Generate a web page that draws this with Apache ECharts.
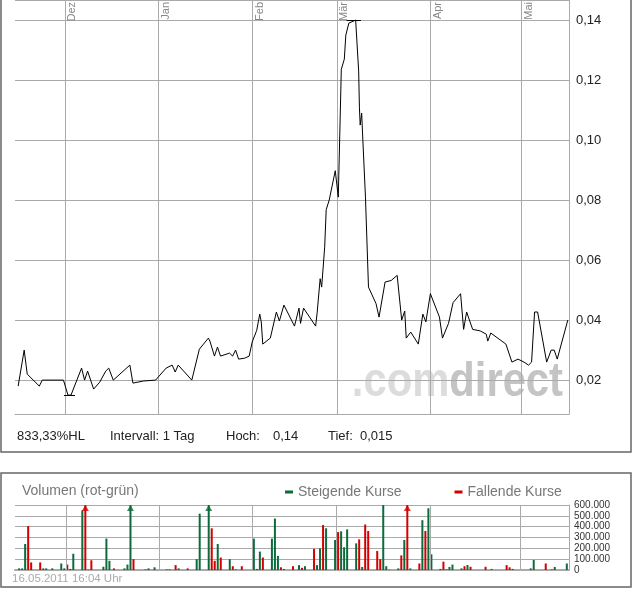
<!DOCTYPE html>
<html><head><meta charset="utf-8">
<script src="https://cdn.jsdelivr.net/npm/echarts@6/dist/echarts.min.js"></script>
<style>html,body{margin:0;padding:0;background:#fff}#c{width:632px;height:590px}</style>
</head><body><div id="c"></div>
<script>
// ---------- data ----------
const priceDates = ['2010-11-15 12:00','2010-11-17 12:00','2010-11-18 12:00','2010-11-22 12:00','2010-11-23 12:00','2010-11-30 12:00','2010-12-02','2010-12-03','2010-12-06 12:00','2010-12-07 12:00','2010-12-08 12:00','2010-12-10 12:00','2010-12-12 12:00','2010-12-14 12:00','2010-12-15 12:00','2010-12-17','2010-12-22 12:00','2010-12-23 12:00','2010-12-27','2010-12-31','2011-01-03 12:00','2011-01-05 12:00','2011-01-06 12:00','2011-01-07 12:00','2011-01-12','2011-01-12 12:00','2011-01-14 12:00','2011-01-17 12:00','2011-01-18','2011-01-19 12:00','2011-01-20 12:00','2011-01-21 12:00','2011-01-24 12:00','2011-01-25 12:00','2011-01-26 12:00','2011-01-27 12:00','2011-01-29 12:00','2011-01-31','2011-02-01','2011-02-02 12:00','2011-02-03 12:00','2011-02-04','2011-02-04 12:00','2011-02-07','2011-02-09','2011-02-10','2011-02-11 12:00','2011-02-15','2011-02-16 12:00','2011-02-17','2011-02-18','2011-02-22','2011-02-22 12:00','2011-02-23 12:00','2011-02-24','2011-02-25','2011-02-25 12:00','2011-02-26 12:00','2011-02-28 12:00','2011-03-01 12:00','2011-03-02','2011-03-02 12:00','2011-03-03 12:00','2011-03-04','2011-03-05','2011-03-07 06:00','2011-03-08 06:00','2011-03-08 12:00','2011-03-08 18:00','2011-03-09 06:00','2011-03-09 12:00','2011-03-10 12:00','2011-03-11 12:00','2011-03-14','2011-03-15','2011-03-17','2011-03-19','2011-03-21','2011-03-22 12:00','2011-03-23 12:00','2011-03-24','2011-03-25 12:00','2011-03-28','2011-03-29 12:00','2011-03-30 12:00','2011-04-01','2011-04-04','2011-04-05','2011-04-07','2011-04-08 12:00','2011-04-11','2011-04-12','2011-04-13','2011-04-15','2011-04-17 12:00','2011-04-19 12:00','2011-04-20','2011-04-21','2011-04-26','2011-04-28','2011-04-30','2011-05-02','2011-05-03 12:00','2011-05-04 12:00','2011-05-05 12:00','2011-05-06 12:00','2011-05-09 12:00','2011-05-11','2011-05-12','2011-05-13','2011-05-16 12:00'];
const priceValues = [0.018,0.030,0.022,0.018,0.020,0.020,0.015,0.015,0.024,0.020,0.023,0.017,0.0193,0.023,0.024,0.020,0.025,0.019,0.0197,0.020,0.024,0.025,0.0227,0.025,0.020,0.020,0.0303,0.034,0.033,0.028,0.031,0.028,0.029,0.028,0.030,0.027,0.0273,0.028,0.0327,0.0366,0.042,0.0394,0.032,0.034,0.0427,0.0397,0.045,0.038,0.044,0.0389,0.044,0.038,0.0424,0.0538,0.051,0.0643,0.0768,0.080,0.0898,0.081,0.102,0.1236,0.127,0.135,0.139,0.140,0.123,0.111,0.105,0.109,0.103,0.081,0.051,0.0455,0.041,0.0527,0.0532,0.0549,0.040,0.043,0.034,0.036,0.032,0.042,0.0394,0.0488,0.041,0.034,0.0389,0.0458,0.0488,0.0369,0.0427,0.0369,0.0364,0.0353,0.033,0.0357,0.032,0.026,0.027,0.026,0.025,0.026,0.0427,0.0427,0.026,0.030,0.030,0.027,0.040];

const volDates = ['2010-11-15 12:00','2010-11-16 12:00','2010-11-17 12:00','2010-11-18 12:00','2010-11-19 12:00','2010-11-22 12:00','2010-11-23 12:00','2010-11-24 12:00','2010-11-26 12:00','2010-11-29 12:00','2010-11-30 12:00','2010-12-01 12:00','2010-12-02 12:00','2010-12-03 12:00','2010-12-06 12:00','2010-12-07 12:00','2010-12-08 12:00','2010-12-09 12:00','2010-12-13 12:00','2010-12-14 12:00','2010-12-15 12:00','2010-12-17','2010-12-20 12:00','2010-12-21 12:00','2010-12-22 12:00','2010-12-23 12:00','2010-12-27 12:00','2010-12-28 12:00','2010-12-30 12:00','2011-01-03 12:00','2011-01-04 12:00','2011-01-06 12:00','2011-01-07 12:00','2011-01-10 12:00','2011-01-13 12:00','2011-01-14 12:00','2011-01-17 12:00','2011-01-18 12:00','2011-01-19 12:00','2011-01-20 12:00','2011-01-21 12:00','2011-01-24 12:00','2011-01-25 12:00','2011-01-26 12:00','2011-01-28 12:00','2011-02-01 12:00','2011-02-02 12:00','2011-02-03 12:00','2011-02-04 12:00','2011-02-07 12:00','2011-02-08 12:00','2011-02-09 12:00','2011-02-10 12:00','2011-02-11 12:00','2011-02-14 12:00','2011-02-16 12:00','2011-02-17 12:00','2011-02-18 12:00','2011-02-21 12:00','2011-02-22 12:00','2011-02-23 12:00','2011-02-24 12:00','2011-02-25 12:00','2011-02-28 12:00','2011-03-01 12:00','2011-03-02 12:00','2011-03-03 12:00','2011-03-04 12:00','2011-03-07 12:00','2011-03-08 12:00','2011-03-09 12:00','2011-03-10 12:00','2011-03-11 12:00','2011-03-14 12:00','2011-03-15 12:00','2011-03-16 12:00','2011-03-17 12:00','2011-03-18 12:00','2011-03-21 12:00','2011-03-22 12:00','2011-03-23 12:00','2011-03-24 12:00','2011-03-25 12:00','2011-03-28 12:00','2011-03-29 12:00','2011-03-30 12:00','2011-03-31 12:00','2011-04-01 12:00','2011-04-04 12:00','2011-04-05 12:00','2011-04-06 12:00','2011-04-07 12:00','2011-04-08 12:00','2011-04-11 12:00','2011-04-12 12:00','2011-04-13 12:00','2011-04-14 12:00','2011-04-19 12:00','2011-04-21 12:00','2011-04-26 12:00','2011-04-27 12:00','2011-04-28 12:00','2011-05-04 12:00','2011-05-05 12:00','2011-05-09 12:00','2011-05-11 12:00','2011-05-12 12:00','2011-05-16 12:00'];
const volValues = [15000,15000,240000,406000,70000,70000,15000,15000,15000,60000,15000,50000,10000,150000,550000,800000,5000,90000,30000,290000,85000,15000,15000,50000,900000,100000,6000,15000,25000,6000,6000,45000,15000,15000,100000,520000,850000,385000,85000,240000,115000,100000,35000,6000,35000,290000,10000,170000,115000,290000,475000,130000,25000,10000,35000,45000,20000,35000,195000,45000,200000,415000,385000,277000,350000,357000,210000,375000,246000,283000,28000,420000,360000,175000,100000,600000,35000,3000,15000,135000,277000,800000,15000,60000,460000,360000,570000,145000,10000,77000,6000,28000,50000,15000,35000,46000,30000,30000,10000,45000,25000,10000,15000,92000,60000,6000,28000,60000];
const volDir = ['u','u','u','d','d','d','u','u','u','u','u','d','d','u','u','d','u','d','u','u','u','d','u','u','u','d','u','u','u','u','u','d','u','d','u','u','u','d','d','u','d','u','d','u','d','u','u','u','d','u','u','u','d','u','d','u','d','u','d','u','u','d','u','u','d','u','u','u','u','d','u','d','d','d','d','u','u','u','u','d','u','d','u','d','u','d','u','u','d','d','u','u','u','u','d','u','d','d','u','d','d','d','u','u','d','u','u','u'];

const monthDates = ['2010-12-01','2011-01-01','2011-02-01','2011-03-01','2011-04-01','2011-05-01'];
const monthLabels = ['Dez','Jan','Feb','Mär','Apr','Mai'];
const xRange = ['2010-11-14 11:00','2011-05-16 21:30'];
const priceRange = [0.0087, 0.1467];
const volMax = 600000;
const highValue = 0.14, highSpan = ['2011-03-04 06:00','2011-03-09'];
const lowValue = 0.015, lowSpan = ['2010-11-30 16:00','2010-12-04 08:00'];
const infoItems = ['833,33%HL','Intervall: 1 Tag','Hoch:','0,14','Tief:','0,015'];
const stamp = '16.05.2011 16:04 Uhr';

// ---------- helpers ----------
function t(s){
  const m = s.match(/(\d+)-(\d+)-(\d+)(?: (\d+):(\d+))?/);
  return new Date(+m[1], +m[2]-1, +m[3], m[4]?+m[4]:0, m[5]?+m[5]:0).getTime();
}
function deNum(v){ return String(Math.round(v)).replace(/\B(?=(\d{3})+(?!\d))/g, '.'); }
const FONT = '"Liberation Sans", Arial, sans-serif';
const GRID = '#aaaaaa';
const GREEN = '#0b6b3a', RED = '#d40000';

const priceData = priceDates.map((d,i)=>[t(d), priceValues[i]]);
const upData = [], downData = [], overUp = [], overDown = [];
volDates.forEach((d,i)=>{
  const p = [t(d), volValues[i]];
  (volDir[i]==='u' ? upData : downData).push(p);
  if (volValues[i] > volMax) (volDir[i]==='u' ? overUp : overDown).push([t(d), volMax]);
});

const monthLines = monthDates.map((d,i)=>({xAxis: t(d), name: monthLabels[i]}));

const chart = echarts.init(document.getElementById('c'), null, {renderer:'canvas'});
chart.setOption({
  animation: false,
  textStyle: {fontFamily: FONT},
  grid: [
    {left: 15, right: 63, top: -1, height: 415, containLabel: false},
    {left: 15, right: 63, top: 505, height: 65, containLabel: false}
  ],
  xAxis: [
    {type:'time', gridIndex:0, min:t(xRange[0]), max:t(xRange[1]),
     axisLine:{show:true, lineStyle:{color:GRID}}, axisTick:{show:false}, axisLabel:{show:false}, splitLine:{show:false}},
    {type:'time', gridIndex:1, min:t(xRange[0]), max:t(xRange[1]),
     axisLine:{show:true, lineStyle:{color:GRID, width:2}}, axisTick:{show:false}, axisLabel:{show:false}, splitLine:{show:false}}
  ],
  yAxis: [
    {type:'value', gridIndex:0, position:'right', min:priceRange[0], max:priceRange[1], splitNumber:7,
     axisLine:{show:true, lineStyle:{color:GRID}}, axisTick:{show:false},
     axisLabel:{showMinLabel:false, showMaxLabel:false, color:'#222', fontSize:13, margin:7, fontFamily:FONT,
       formatter: v => v.toFixed(2).replace('.', ',')},
     splitLine:{show:true, lineStyle:{color:GRID}}},
    {type:'value', gridIndex:1, position:'right', min:0, max:volMax, interval:100000,
     axisLine:{show:true, lineStyle:{color:GRID}}, axisTick:{show:false},
     axisLabel:{color:'#333', fontSize:10, margin:5, fontFamily:FONT, formatter: v => deNum(v)},
     splitLine:{show:true, lineStyle:{color:GRID}}}
  ],
  legend: {
    data: ['Steigende Kurse','Fallende Kurse'], left: 280, top: 480, icon: 'rect',
    itemWidth: 8, itemHeight: 3, itemGap: 53, selectedMode: false,
    textStyle: {color:'#777', fontSize:14, fontFamily:FONT}
  },
  series: [
    {type:'line', name:'Kurs', xAxisIndex:0, yAxisIndex:0, data: priceData, showSymbol:false, symbol:'none',
     lineStyle:{color:'#000', width:1}, z: 5,
     markLine: {silent:true, symbol:'none', animation:false,
       lineStyle:{color:GRID, width:1, type:'solid'},
       label:{show:true, position:'insideEndBottom', formatter: p => p.name, color:'#888', fontSize:11, fontFamily:FONT, distance:2},
       data: monthLines.concat([
         [{coord:[t(highSpan[0]), highValue], lineStyle:{color:'#000', width:1, type:'solid'}, label:{show:false}}, {coord:[t(highSpan[1]), highValue]}],
         [{coord:[t(lowSpan[0]), lowValue], lineStyle:{color:'#000', width:1, type:'solid'}, label:{show:false}}, {coord:[t(lowSpan[1]), lowValue]}]
       ])}
    },
    {type:'bar', name:'Steigende Kurse', xAxisIndex:1, yAxisIndex:1, data: upData, barWidth:2, barGap:'-100%',
     itemStyle:{color:GREEN}, clip:true,
     markLine:{silent:true, symbol:'none', animation:false, label:{show:false},
       lineStyle:{color:GRID, width:1, type:'solid'}, data: monthDates.map(d=>({xAxis:t(d)}))}},
    {type:'bar', name:'Fallende Kurse', xAxisIndex:1, yAxisIndex:1, data: downData, barWidth:2, barGap:'-100%',
     itemStyle:{color:RED}, clip:true},
    {type:'scatter', name:'upOver', xAxisIndex:1, yAxisIndex:1, data: overUp, symbol:'triangle', symbolSize:[7,6], symbolOffset:[0,3],
     itemStyle:{color:GREEN}, clip:false, silent:true},
    {type:'scatter', name:'downOver', xAxisIndex:1, yAxisIndex:1, data: overDown, symbol:'triangle', symbolSize:[7,6], symbolOffset:[0,3],
     itemStyle:{color:RED}, clip:false, silent:true}
  ],
  graphic: [
    {type:'text', z:-1, x:563, y:407, scaleX:0.87, scaleY:1, silent:true,
     style:{text:'{a|.com}{b|direct}', align:'right', verticalAlign:'bottom',
       rich:{a:{fill:'#dcdcdc', font:'bold 48px '+FONT}, b:{fill:'#c4c4c4', font:'bold 48px '+FONT}}}},
    {type:'rect', x:1, y:-5, shape:{width:630, height:457}, style:{fill:'none', stroke:'#666', lineWidth:1.5}, silent:true},
    {type:'rect', x:1, y:473, shape:{width:630, height:114}, style:{fill:'none', stroke:'#666', lineWidth:1.5}, silent:true},
    {type:'text', x:17, y:436, style:{text:infoItems[0], fill:'#222', font:'13px '+FONT, verticalAlign:'middle'}},
    {type:'text', x:110, y:436, style:{text:infoItems[1], fill:'#222', font:'13px '+FONT, verticalAlign:'middle'}},
    {type:'text', x:226, y:436, style:{text:infoItems[2], fill:'#222', font:'13px '+FONT, verticalAlign:'middle'}},
    {type:'text', x:273, y:436, style:{text:infoItems[3], fill:'#222', font:'13px '+FONT, verticalAlign:'middle'}},
    {type:'text', x:328, y:436, style:{text:infoItems[4], fill:'#222', font:'13px '+FONT, verticalAlign:'middle'}},
    {type:'text', x:360, y:436, style:{text:infoItems[5], fill:'#222', font:'13px '+FONT, verticalAlign:'middle'}},
    {type:'text', x:22, y:491, style:{text:'Volumen (rot-grün)', fill:'#777', font:'14px '+FONT, verticalAlign:'middle'}},
    {type:'text', x:12, y:579, style:{text:stamp, fill:'#aaa', font:'11.5px '+FONT, verticalAlign:'middle'}}
  ]
});
</script></body></html>
